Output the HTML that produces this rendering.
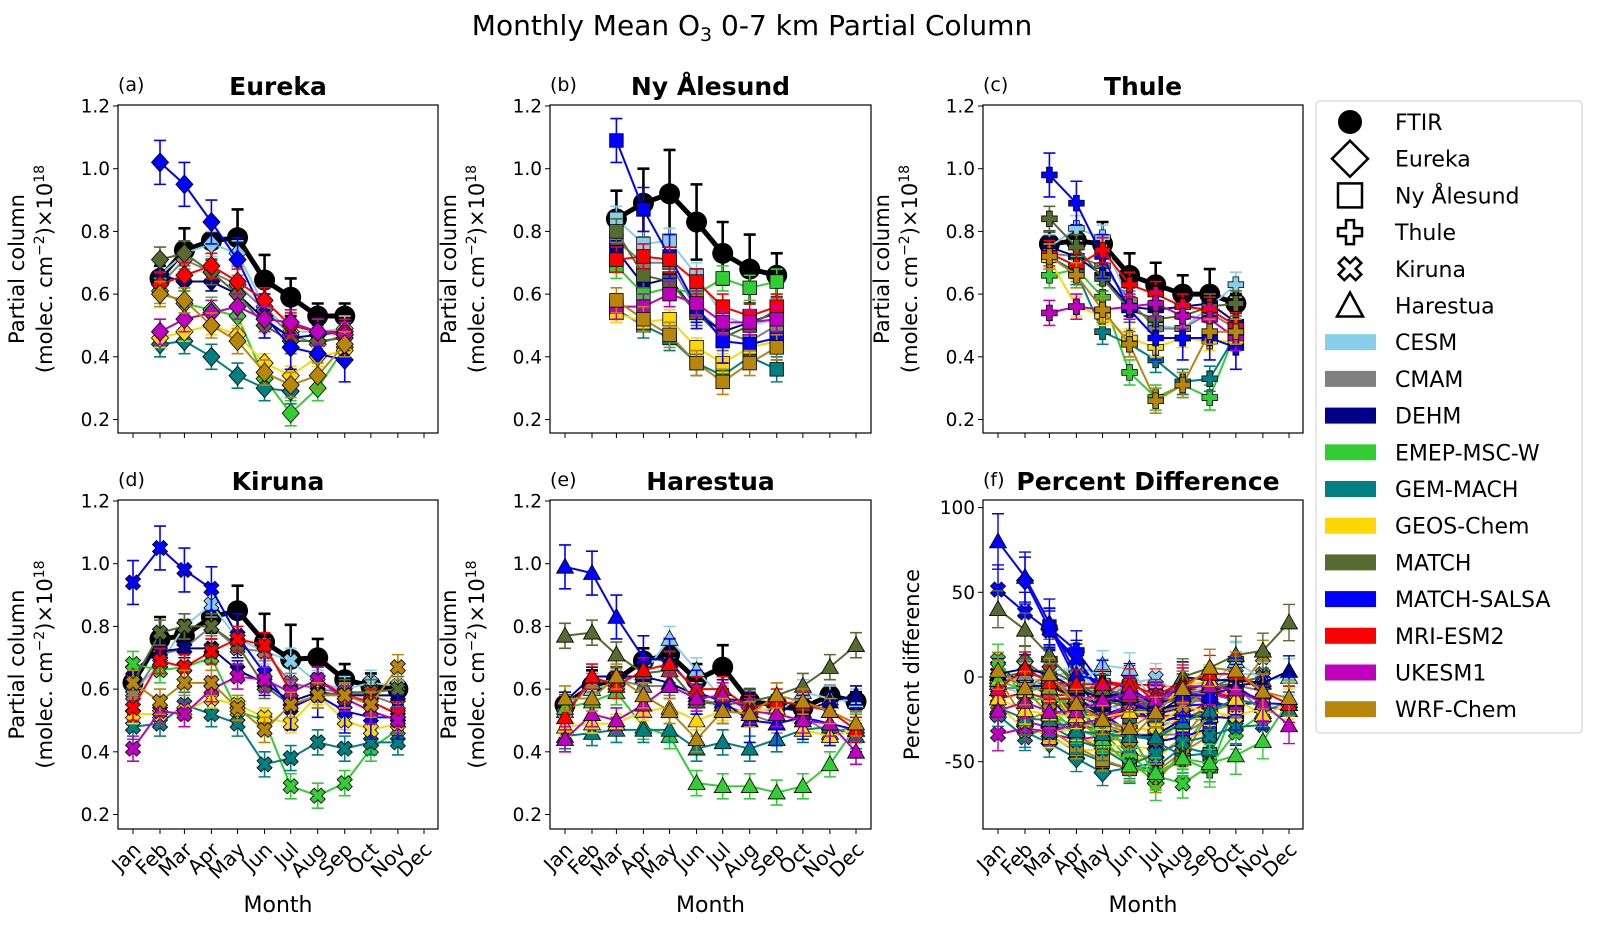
<!DOCTYPE html>
<html><head><meta charset="utf-8"><title>Monthly Mean O3 0-7 km Partial Column</title>
<style>
html,body{margin:0;padding:0;background:#fff;}
svg{display:block;font-family:"DejaVu Sans","Liberation Sans",sans-serif;}
</style></head>
<body>
<svg id="chart" width="1598" height="926" viewBox="0 0 1598 926" xmlns="http://www.w3.org/2000/svg">
<text x="752" y="35" font-size="28" text-anchor="middle">Monthly Mean O<tspan font-size="19" dy="6">3</tspan><tspan dy="-6"> 0-7 km Partial Column</tspan></text>
</svg>
<script>
const _ = null;
const months = ['Jan','Feb','Mar','Apr','May','Jun','Jul','Aug','Sep','Oct','Nov','Dec'];
const monthDays = [0,31,59,90,120,151,181,212,243,273,304,334];
const modelNames = ['CESM','CMAM','DEHM','EMEP-MSC-W','GEM-MACH','GEOS-Chem','MATCH','MATCH-SALSA','MRI-ESM2','UKESM1','WRF-Chem'];
const modelColors = ['#87CEEB','#808080','#00008B','#32CD32','#008080','#FFD700','#556B2F','#0000FF','#FF0000','#BF00BF','#B8860B'];
const modelErr = [0.04,0.03,0.03,0.04,0.04,0.03,0.04,0.07,0.04,0.04,0.04];
const yTicks = [0.2,0.4,0.6,0.8,1.0,1.2];
const pctTicks = [-50,0,50,100];

// Eureka
const eurFTIR = [_,0.65,0.74,0.77,0.78,0.645,0.59,0.53,0.53,_,_,_];
const eurFTIRerr = [_,0.04,0.07,0.06,0.09,0.08,0.06,0.04,0.04,_,_,_];
const eurCESM = [_,.66,.73,.76,.73,.56,.48,.48,.49,_,_,_];
const eurCMAM = [_,.63,.71,.67,.63,.55,.47,.44,.47,_,_,_];
const eurDEHM = [_,.66,.64,.64,.60,.52,.46,.47,.48,_,_,_];
const eurEMEP = [_,.61,.57,.55,.53,.33,.22,.30,.43,_,_,_];
const eurGEM = [_,.44,.45,.40,.34,.30,.29,_,_,_,_,_];
const eurGEOS = [_,.46,.48,.50,.47,.38,.34,.40,.42,_,_,_];
const eurMATCH = [_,.71,.73,.67,.60,.50,.45,.45,.46,_,_,_];
const eurSALSA = [_,1.02,.95,.83,.71,.53,.43,.41,.39,_,_,_];
const eurMRI = [_,.63,.66,.69,.64,.58,.50,.48,.48,_,_,_];
const eurUKESM = [_,.48,.52,.54,.56,.52,.51,.48,.47,_,_,_];
const eurWRF = [_,.60,.58,.50,.45,.35,.31,.34,.44,_,_,_];

// Ny Alesund
const nyaFTIR = [_,_,.84,.89,.92,.83,.73,.68,.66,_,_,_];
const nyaFTIRerr = [_,_,.09,.11,.14,.12,.10,.11,.07,_,_,_];
const nyaCESM = [_,_,.84,.76,.77,.66,.53,.50,.52,_,_,_];
const nyaCMAM = [_,_,.77,.70,.70,.55,.48,.45,.50,_,_,_];
const nyaDEHM = [_,_,.74,.63,.65,.54,.48,.51,.54,_,_,_];
const nyaEMEP = [_,_,.69,.60,.62,.60,.65,.62,.64,_,_,_];
const nyaGEM = [_,_,.55,.50,.46,.38,.34,.40,.36,_,_,_];
const nyaGEOS = [_,_,.54,.51,.52,.43,.38,.43,.45,_,_,_];
const nyaMATCH = [_,_,.80,.66,.64,.54,.46,.50,.55,_,_,_];
const nyaSALSA = [_,_,1.09,.87,.72,.56,.45,.44,.46,_,_,_];
const nyaMRI = [_,_,.71,.72,.71,.64,.56,.53,.56,_,_,_];
const nyaUKESM = [_,_,.56,.56,.60,.57,.51,.51,.52,_,_,_];
const nyaWRF = [_,_,.58,.52,.47,.38,.32,.38,.43,_,_,_];

// Thule
const thuFTIR = [_,_,.76,.77,.76,.66,.63,.60,.60,.57,_,_];
const thuFTIRerr = [_,_,.04,.05,.07,.07,.07,.06,.08,.03,_,_];
const thuCESM = [_,_,.75,.81,.78,.57,.50,.49,.56,.63,_,_];
const thuCMAM = [_,_,.73,.72,.69,.58,.49,.49,.54,.49,_,_];
const thuDEHM = [_,_,.75,.72,.66,.56,.55,.56,.57,.51,_,_];
const thuEMEP = [_,_,.66,.68,.59,.35,.27,.31,.27,.48,_,_];
const thuGEM = [_,_,.72,.67,.48,.44,.39,.32,.33,.47,_,_];
const thuGEOS = [_,_,.71,.56,.53,.46,.43,.46,.45,.45,_,_];
const thuMATCH = [_,_,.84,.75,.65,.55,.52,.53,.56,.57,_,_];
const thuSALSA = [_,_,.98,.89,.72,.55,.46,.46,.46,.43,_,_];
const thuMRI = [_,_,.73,.69,.74,.63,.60,.56,.55,.50,_,_];
const thuUKESM = [_,_,.54,.56,.55,.56,.57,.53,.52,.46,_,_];
const thuWRF = [_,_,.72,.66,.55,.44,.26,.31,.48,.48,_,_];

// Kiruna
const kirFTIR = [.62,.76,.77,.83,.85,.75,.695,.70,.63,.61,.60,_];
const kirFTIRerr = [.03,.07,.05,.05,.08,.09,.11,.06,.05,.04,.02,_];
const kirCESM = [.59,.68,.80,.87,.76,.72,.69,.62,.60,.62,.61,_];
const kirCMAM = [.58,.71,.73,.80,.73,.72,.62,.60,.59,.58,.55,_];
const kirDEHM = [.66,.72,.73,.73,.66,.62,.56,.59,.58,.58,.58,_];
const kirEMEP = [.68,.66,.67,.70,.53,.50,.29,.26,.30,.41,.47,_];
const kirGEM = [.48,.49,.55,.52,.49,.36,.38,.43,.41,.43,.43,_];
const kirGEOS = [.52,.52,.53,.57,.55,.51,.49,.58,.50,.47,.49,_];
const kirMATCH = [.62,.78,.80,.80,.74,.61,.55,.58,.59,.59,.60,_];
const kirSALSA = [.94,1.05,.98,.92,.77,.65,.54,.58,.53,.51,.51,_];
const kirMRI = [.54,.69,.67,.72,.76,.74,.59,.63,.58,.56,.52,_];
const kirUKESM = [.41,.53,.52,.60,.64,.63,.59,.63,.57,.53,.50,_];
const kirWRF = [.62,.56,.62,.62,.54,.47,.55,.58,.58,.55,.67,_];

// Harestua
const harFTIR = [.55,.61,.63,.69,.71,.63,.67,.56,.55,.54,.58,.56];
const harFTIRerr = [.03,.05,.04,.04,.05,.05,.07,.04,.03,.03,.03,.03];
const harCESM = [.55,.60,.62,.65,.76,.66,.57,.55,.52,.59,.57,.56];
const harCMAM = [.53,.62,.63,.61,.61,.57,.55,.52,.49,.51,.46,.48];
const harDEHM = [.56,.64,.64,.64,.62,.58,.57,.56,.54,.53,.56,.58];
const harEMEP = [.54,.56,.59,.48,.45,.30,.29,.29,.27,.29,.36,.48];
const harGEM = [.45,.46,.47,.47,.47,.41,.43,.41,.44,.47,.48,.45];
const harGEOS = [.48,.49,.49,.53,.54,.50,.53,.53,.54,.47,.45,.47];
const harMATCH = [.77,.78,.71,.65,.66,.56,.55,.56,.58,.61,.67,.74];
const harSALSA = [.99,.97,.83,.70,.69,.59,.56,.50,.49,.51,.49,.47];
const harMRI = [.51,.64,.61,.66,.68,.60,.60,.54,.56,.55,.53,.47];
const harUKESM = [.44,.52,.50,.55,.61,.57,.58,.53,.52,.50,.49,.40];
const harWRF = [.57,.57,.64,.58,.53,.44,.53,.52,.58,.56,.53,.49];

const stations = [
  {key:'eureka', title:'Eureka', label:'(a)', shape:'diamond', ftir:eurFTIR, ferr:eurFTIRerr,
   models:[eurCESM,eurCMAM,eurDEHM,eurEMEP,eurGEM,eurGEOS,eurMATCH,eurSALSA,eurMRI,eurUKESM,eurWRF], L:118, T:105, W:320, H:328, labels:false},
  {key:'ny-alesund', title:'Ny Ålesund', label:'(b)', shape:'square', ftir:nyaFTIR, ferr:nyaFTIRerr,
   models:[nyaCESM,nyaCMAM,nyaDEHM,nyaEMEP,nyaGEM,nyaGEOS,nyaMATCH,nyaSALSA,nyaMRI,nyaUKESM,nyaWRF], L:550, T:105, W:321, H:328, labels:false},
  {key:'thule', title:'Thule', label:'(c)', shape:'plus', ftir:thuFTIR, ferr:thuFTIRerr,
   models:[thuCESM,thuCMAM,thuDEHM,thuEMEP,thuGEM,thuGEOS,thuMATCH,thuSALSA,thuMRI,thuUKESM,thuWRF], L:983, T:105, W:320, H:328, labels:false},
  {key:'kiruna', title:'Kiruna', label:'(d)', shape:'x', ftir:kirFTIR, ferr:kirFTIRerr,
   models:[kirCESM,kirCMAM,kirDEHM,kirEMEP,kirGEM,kirGEOS,kirMATCH,kirSALSA,kirMRI,kirUKESM,kirWRF], L:118, T:500, W:320, H:329, labels:true},
  {key:'harestua', title:'Harestua', label:'(e)', shape:'triangle', ftir:harFTIR, ferr:harFTIRerr,
   models:[harCESM,harCMAM,harDEHM,harEMEP,harGEM,harGEOS,harMATCH,harSALSA,harMRI,harUKESM,harWRF], L:550, T:500, W:321, H:329, labels:true}
];

const NS = 'http://www.w3.org/2000/svg';
const svg = document.getElementById('chart');
function mk(tag, attrs, parent){
  const e = document.createElementNS(NS, tag);
  for (const k in attrs) e.setAttribute(k, attrs[k]);
  (parent||svg).appendChild(e);
  return e;
}
function xPos(L, i){ return L + 15 + monthDays[i]*0.8713; }
function yVal(T, v){ return T + 1 + (1.2 - v)*313.5; }
function yPct(p){ return 677 - p*1.694; }

function marker(g, shape, x, y, color){
  let e;
  if (shape === 'circle') {
    e = mk('circle', {cx:x, cy:y, r:10.5, fill:color}, g);
  } else if (shape === 'diamond') {
    const s = 9.5;
    e = mk('polygon', {points:`${x},${y-s} ${x+s*0.9},${y} ${x},${y+s} ${x-s*0.9},${y}`, fill:color, stroke:'#000', 'stroke-width':0.8}, g);
  } else if (shape === 'square') {
    const s = 6.8;
    e = mk('rect', {x:x-s, y:y-s, width:2*s, height:2*s, fill:color, stroke:'#000', 'stroke-width':0.8}, g);
  } else if (shape === 'plus') {
    const a = 7.8, b = 2.9;
    e = mk('polygon', {points:`${x-b},${y-a} ${x+b},${y-a} ${x+b},${y-b} ${x+a},${y-b} ${x+a},${y+b} ${x+b},${y+b} ${x+b},${y+a} ${x-b},${y+a} ${x-b},${y+b} ${x-a},${y+b} ${x-a},${y-b} ${x-b},${y-b}`, fill:color, stroke:'#000', 'stroke-width':0.8}, g);
  } else if (shape === 'x') {
    const a = 7.8, b = 2.9;
    const pts = [[-b,-a],[b,-a],[b,-b],[a,-b],[a,b],[b,b],[b,a],[-b,a],[-b,b],[-a,b],[-a,-b],[-b,-b]];
    const c = Math.SQRT1_2;
    const p = pts.map(q => `${x + (q[0]-q[1])*c},${y + (q[0]+q[1])*c}`).join(' ');
    e = mk('polygon', {points:p, fill:color, stroke:'#000', 'stroke-width':0.8}, g);
  } else {
    const s = 8.5;
    e = mk('polygon', {points:`${x},${y-s} ${x+s},${y+s*0.75} ${x-s},${y+s*0.75}`, fill:color, stroke:'#000', 'stroke-width':0.8}, g);
  }
  
  
  return e;
}

function errBar(g, x, y1, y2, color, w){
  const e = mk('path', {d:`M${x},${y1}V${y2}M${x-6},${y1}H${x+6}M${x-6},${y2}H${x+6}`, stroke:color, 'stroke-width':w||1.6, fill:'none'}, g);
  
  
}

function drawSeries(g, vals, errs, errScalar, yf, L, color, shape, lineW, ewidth){
  const sg = mk('g', {}, g);
  let d = '';
  vals.forEach((v,i) => { if (v !== null) { d += (d ? 'L' : 'M') + xPos(L,i) + ',' + yf(v); } });
  vals.forEach((v,i) => {
    if (v === null) return;
    const er = errs ? errs[i] : errScalar(i);
    if (er) errBar(sg, xPos(L,i), yf(v+er), yf(v-er), color, ewidth);
  });
  const line = mk('path', {d:d, stroke:color, 'stroke-width':lineW, fill:'none', 'stroke-linejoin':'round'}, sg);
  
  
  vals.forEach((v,i) => { if (v !== null) marker(sg, shape, xPos(L,i), yf(v), color); });
  return sg;
}

function axesFrame(p, name, isPct){
  const g = mk('g', {});
  
  
  const cp = mk('clipPath', {id:'clip-' + name}, g);
  mk('rect', {x:p.L, y:p.T, width:p.W, height:p.H}, cp);
  const ticks = isPct ? pctTicks : yTicks;
  ticks.forEach(t => {
    const y = isPct ? yPct(t) : yVal(p.T, t);
    mk('line', {x1:p.L-5, x2:p.L, y1:y, y2:y, stroke:'#000', 'stroke-width':1}, g);
    const tl = mk('text', {x:p.L-8, y:y+6.5, 'font-size':18.5, 'text-anchor':'end'}, g);
    tl.textContent = isPct ? String(t) : t.toFixed(1);
    
    
  });
  months.forEach((m,i) => {
    const x = xPos(p.L, i);
    mk('line', {x1:x, x2:x, y1:p.T+p.H, y2:p.T+p.H+5, stroke:'#000', 'stroke-width':1}, g);
    if (p.labels) {
      const tl = mk('text', {x:0, y:0, 'font-size':20, 'text-anchor':'end', transform:`translate(${x+9},${p.T+p.H+22}) rotate(-45)`}, g);
      tl.textContent = m;
      
      
    }
  });
  if (p.labels) {
    const xl = mk('text', {x:p.L+p.W/2, y:912, 'font-size':22, 'text-anchor':'middle'}, g);
    xl.textContent = 'Month';
    
    
  }
  const cy = p.T + p.H/2;
  if (isPct) {
    const yl = mk('text', {x:0, y:0, 'font-size':21, 'text-anchor':'middle', transform:`translate(${p.L-64},${cy}) rotate(-90)`}, g);
    yl.textContent = 'Percent difference';
    
    
  } else {
    const yl = mk('text', {x:0, y:0, 'font-size':21, 'text-anchor':'middle', transform:`translate(${p.L-94},${cy}) rotate(-90)`}, g);
    yl.textContent = 'Partial column';
    
    
    const yl2 = mk('text', {x:0, y:0, 'font-size':21, 'text-anchor':'middle', transform:`translate(${p.L-66},${cy}) rotate(-90)`}, g);
    yl2.innerHTML = '(molec. cm<tspan font-size="14" dy="-8">−2</tspan><tspan dy="8">)×10</tspan><tspan font-size="14" dy="-8">18</tspan>';
    
    
  }
  const lab = mk('text', {x:p.L, y:p.T-14, 'font-size':19}, g);
  lab.textContent = p.label;
  
  
  const ttl = mk('text', {x:p.L+p.W/2 + (isPct ? 5 : 0), y:p.T-10, 'font-size':25, 'font-weight':'bold', 'text-anchor':'middle'}, g);
  ttl.textContent = p.title;
  
  
  const plot = mk('g', {'clip-path':`url(#clip-${name})`}, g);
  
  
  const fr = mk('rect', {x:p.L, y:p.T, width:p.W, height:p.H, fill:'none', stroke:'#000', 'stroke-width':1.2}, g);
  
  
  return plot;
}

stations.forEach(st => {
  const plot = axesFrame(st, st.key, false);
  const yf = v => yVal(st.T, v);
  const fg = drawSeries(plot, st.ftir, st.ferr, null, yf, st.L, '#000', 'circle', 5, 2.6);
  
  
  st.models.forEach((vals, mi) => {
    const sg = drawSeries(plot, vals, null, () => modelErr[mi], yf, st.L, modelColors[mi], st.shape, 2, 1.6);
    
    
  });
});

const pf = {L:983, T:500, W:320, H:329, labels:true, label:'(f)', title:'Percent Difference'};
const fplot = axesFrame(pf, 'percent-difference', true);
stations.forEach(st => {
  st.models.forEach((vals, mi) => {
    const pct = vals.map((v,i) => (v === null || st.ftir[i] === null) ? null : (v - st.ftir[i]) / st.ftir[i] * 100);
    const perr = vals.map((v,i) => (v === null || st.ftir[i] === null) ? null : (modelErr[mi] + 0.02) / st.ftir[i] * 100);
    const sg = drawSeries(fplot, pct, perr, null, yPct, pf.L, modelColors[mi], st.shape, 2, 1.4);
    
    
  });
});

const lg = mk('g', {});


const lbox = mk('rect', {x:1316, y:101, width:266, height:632, rx:4, fill:'#fff', stroke:'#ccc', 'stroke-width':1}, lg);


const legendSym = [['FTIR','circle'],['Eureka','diamond'],['Ny Ålesund','square'],['Thule','plus'],['Kiruna','x'],['Harestua','triangle']];
let ly = 122;
legendSym.forEach(([name, shape]) => {
  const eg = mk('g', {}, lg);
  
  
  const x = 1350;
  let s;
  if (shape === 'circle') s = mk('circle', {cx:x, cy:ly, r:12, fill:'#000'}, eg);
  else if (shape === 'diamond') s = mk('polygon', {points:`${x},${ly-18} ${x+18},${ly} ${x},${ly+18} ${x-18},${ly}`, fill:'none', stroke:'#000', 'stroke-width':2.5}, eg);
  else if (shape === 'square') s = mk('rect', {x:x-12, y:ly-12, width:24, height:24, fill:'none', stroke:'#000', 'stroke-width':2.5}, eg);
  else if (shape === 'plus') s = mk('path', {d:`M${x-4},${ly-12}h8v8h8v8h-8v8h-8v-8h-8v-8h8z`, fill:'none', stroke:'#000', 'stroke-width':2.5}, eg);
  else if (shape === 'x') s = mk('path', {d:`M${x-4},${ly-12}h8v8h8v8h-8v8h-8v-8h-8v-8h8z`, fill:'none', stroke:'#000', 'stroke-width':2.5, transform:`rotate(45 ${x} ${ly})`}, eg);
  else s = mk('polygon', {points:`${x},${ly-13} ${x+13},${ly+11} ${x-13},${ly+11}`, fill:'none', stroke:'#000', 'stroke-width':2.5}, eg);
  
  
  const t = mk('text', {x:1395, y:ly+8, 'font-size':22}, eg);
  t.textContent = name;
  
  
  ly += 36.7;
});
modelNames.forEach((name, mi) => {
  const eg = mk('g', {}, lg);
  
  
  const r = mk('rect', {x:1325, y:ly-8, width:51, height:16, fill:modelColors[mi]}, eg);
  
  
  const t = mk('text', {x:1395, y:ly+8, 'font-size':22}, eg);
  t.textContent = name;
  
  
  ly += 36.7;
});
</script>
</body></html>
